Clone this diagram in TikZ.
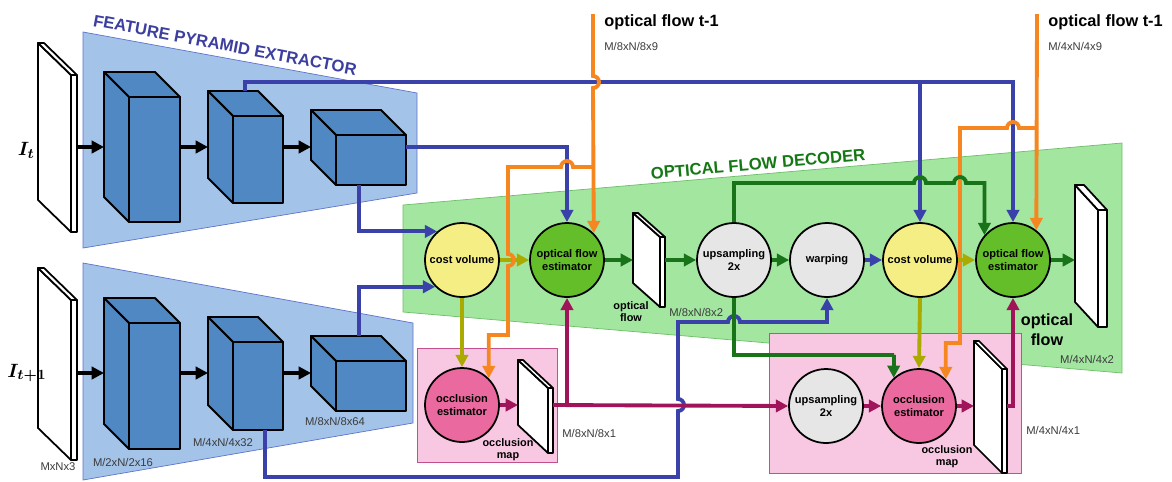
\documentclass[tikz,border=0pt]{standalone}
\usepackage{fontspec}
\setmainfont{Liberation Sans}
\usepackage{bm}
\usetikzlibrary{arrows.meta}

\definecolor{pyrfill}{RGB}{163,195,232}
\definecolor{pyredge}{RGB}{95,115,205}
\definecolor{pyrtext}{RGB}{60,62,160}
\definecolor{cubefill}{RGB}{80,136,196}
\definecolor{decfill}{RGB}{162,230,160}
\definecolor{decedge}{RGB}{110,190,105}
\definecolor{dectext}{RGB}{20,120,20}
\definecolor{occfill}{RGB}{248,200,226}
\definecolor{occedge}{RGB}{195,80,140}
\definecolor{lnblue}{RGB}{58,66,170}
\definecolor{lngreen}{RGB}{25,115,25}
\definecolor{lnolive}{RGB}{170,170,0}
\definecolor{lnorange}{RGB}{245,134,32}
\definecolor{lnmag}{RGB}{160,20,90}
\definecolor{cvfill}{RGB}{244,238,132}
\definecolor{ofefill}{RGB}{100,190,42}
\definecolor{ocefill}{RGB}{234,106,160}
\definecolor{upfill}{RGB}{230,230,230}
\definecolor{dimgrey}{RGB}{60,60,60}

\begin{document}
\begin{tikzpicture}[x=0.02cm,y=-0.02cm,>={Triangle[length=7pt,width=7pt]},
	blk/.style={line width=2.2pt,->},
	bl/.style={line width=2.2pt,lnblue},
	gr/.style={line width=2.2pt,lngreen},
	ol/.style={line width=2.2pt,lnolive},
	or/.style={line width=2.2pt,lnorange},
	mg/.style={line width=2.2pt,lnmag},
	slab/.style={draw,fill=white,line width=1pt,line join=round},
	cube/.style={draw,fill=cubefill,line width=1.1pt,line join=round},
	op/.style={circle,draw,line width=1pt,minimum size=1.48cm,inner sep=0pt,align=center,font=\fontsize{6.3}{7.5}\selectfont\bfseries},
	dim/.style={font=\fontsize{6.4}{7.5}\selectfont,text=dimgrey,inner sep=0pt},
	lbl/.style={font=\fontsize{6.2}{6.9}\selectfont\bfseries,align=center,inner sep=0pt},
	title/.style={font=\fontsize{9.5}{10}\selectfont\bfseries,inner sep=0pt}
]

	\useasboundingbox (0,0) rectangle (1172,481);

	% feature pyramid extractor
	\draw[pyredge,fill=pyrfill] (83,32) -- (417,93) -- (417,193) -- (83,248) -- cycle;
	\draw[pyredge,fill=pyrfill] (83,263) -- (413,323) -- (413,423) -- (83,480) -- cycle;
	\node[title,text=pyrtext,rotate=-10.6] (fpe) at (225,45) {FEATURE PYRAMID EXTRACTOR};

	% optical flow decoder
	\draw[decedge,fill=decfill] (403,205) -- (1122,143) -- (1122,373) -- (403,312) -- cycle;
	\node[title,text=dectext,rotate=5] (ofd) at (758,164) {OPTICAL FLOW DECODER};

	% occlusion boxes
	\draw[occedge,fill=occfill] (417,348) rectangle (557,462);
	\draw[occedge,fill=occfill] (769,333) rectangle (1021,473);

	% images and maps
	\foreach \n/\x/\y/\w/\d/\h/\t/\p in {inA/38/43/33/32/157/6/147, inB/38/268/33/32/160/6/373,
		flowA/633/213/27/24/70/5/260, flowB/1075/185/23/25/117/9/260,
		occA/518/360/30/28/65/5/405, occB/974/341/28/28/104/5/406}{
		\draw[slab] (\x,\y) -- ++(\w,\d) -- ++(0,\h) -- ++(-\w,-\d) -- cycle;
		\draw[slab] (\x,\y) -- ++(\t,0) -- ++(\w,\d) -- ++(-\t,0) -- cycle;
		\draw[slab] (\x+\w,\y+\d) -- ++(\t,0) -- ++(0,\h) -- ++(-\t,0) -- cycle;
		\coordinate (\n-w) at (\x,\p);
		\coordinate (\n-e) at (\x+\w+\t,\p);
	}

	% feature maps
	\foreach \n/\x/\y/\X/\Y/\p in {A1/129/97/180/222/147, A2/233/116/283/203/147, A3/336/135/406/185/147,
		B1/129/323/180/449/373, B2/233/342/283/430/373, B3/336/361/406/411/373}{
		\draw[cube] (\x,\y) -- ++(-25,-25) -- (\X-25,\y-25) -- (\X,\y) -- cycle;
		\draw[cube] (\x,\y) -- ++(-25,-25) -- (\x-25,\Y-25) -- (\x,\Y) -- cycle;
		\draw[cube] (\x,\y) rectangle (\X,\Y);
		\coordinate (\n-w) at (\x-25,\p);
		\coordinate (\n-e) at (\X,\p);
	}
	\coordinate (A2-t) at (245,91);
	\coordinate (A3-b) at (359,185);
	\coordinate (B2-b) at (265,430);
	\coordinate (B3-t) at (359,336);

	\draw[blk] (inA-e) -- (A1-w);
	\draw[blk] (A1-e) -- (A2-w);
	\draw[blk] (A2-e) -- (A3-w);
	\draw[blk] (inB-e) -- (B1-w);
	\draw[blk] (B1-e) -- (B2-w);
	\draw[blk] (B2-e) -- (B3-w);

	% operations
	\node[op,fill=cvfill] (cvA) at (462,260) {cost volume};
	\node[op,fill=ofefill] (ofeA) at (567,260) {optical flow\\estimator};
	\node[op,fill=ocefill] (oceA) at (462,405) {occlusion\\estimator};
	\node[op,fill=upfill] (upA) at (734,260) {upsampling\\2x};
	\node[op,fill=upfill] (warp) at (827,260) {warping};
	\node[op,fill=cvfill] (cvB) at (920,260) {cost volume};
	\node[op,fill=ofefill] (ofeB) at (1013,260) {optical flow\\estimator};
	\node[op,fill=upfill] (upB) at (826,406) {upsampling\\2x};
	\node[op,fill=ocefill] (oceB) at (919,406) {occlusion\\estimator};

	\coordinate (ofA) at (593,14);
	\coordinate (ofB) at (1037,14);
	\coordinate (busA) at (cvB.north |- 0,82);

	% features
	\draw[bl,->] (A2-t) |- (busA) -| (ofeB.north);
	\draw[bl,->] (busA) -- (cvB.north);
	\draw[bl,->] (A3-e) -| (ofeA.north);
	\draw[bl,->] (A3-b) |- (cvA.131);
	\draw[bl,->] (B3-t) |- (cvA.225);
	\draw[bl,->] (B2-b) |- (678,477) -- (678,411) arc[start angle=90,end angle=-90,radius=6]
		-- (678,322) -- (728,322) arc[start angle=180,end angle=360,radius=6] -| (warp.south);
	\draw[bl,->] (warp.east) -- (cvB.west);

	% cost volumes
	\draw[ol,->] (cvA.east) -- (ofeA.west);
	\draw[ol,->] (cvA.south) -- (oceA.north);
	\draw[ol,->] (cvB.south) -- (oceB.north);

	% previous flow
	\draw[or,->] (ofA) -- (593,76) arc[start angle=-90,end angle=90,radius=6] -- (ofeA.45);
	\draw[or,->] (593,167) -- (573,167) arc[start angle=0,end angle=-180,radius=6] -- (508,167)
		-- (508,254) arc[start angle=-90,end angle=90,radius=6] -- (508,335) -| (oceA.45);
	\draw[or,->] (ofB) -- (ofeB.52);
	\draw[or,->] (1037,128) -- (1019,128) arc[start angle=0,end angle=-180,radius=6] -- (960,128)
		-- (960,343) -| (oceB.45);
	\draw[ol,->] (cvB.east) -- (ofeB.west);

	% flow
	\draw[gr,->] (ofeA.east) -- (flowA-w);
	\draw[gr,->] (flowA-e) -- (upA.west);
	\draw[gr,->] (upA.east) -- (warp.west);
	\draw[gr,->] (upA.north) |- (914,183) arc[start angle=180,end angle=360,radius=6]
		-- (954,183) arc[start angle=180,end angle=360,radius=6] -| (ofeB.139);
	\draw[gr,->] (upA.south) |- (894,355) -| (oceB.132);
	\draw[gr,->] (ofeB.east) -- (flowB-w);

	% occlusion
	\draw[mg,->] (oceA.east) -- (occA-w);
	\draw[mg,->] (occA-e) -- (upB.west);
	\draw[mg,->] (ofeA.south |- occA-e) -- (ofeA.south);
	\draw[mg,->] (upB.east) -- (oceB.west);
	\draw[mg,->] (oceB.east) -- (occB-w);
	\draw[mg,->] (occB-e) -| (ofeB.south);

	% labels
	\node[anchor=east,font=\fontsize{11}{12}\selectfont] (imA) at (41,150) {$\bm{I_t}$};
	\node[font=\fontsize{11}{12}\selectfont] (imB) at (27,373) {$\bm{I_{t+1}}$};
	\node[dim] (dimIn) at (58,467) {MxNx3};
	\node[dim] (dimA1) at (123,462) {M/2xN/2x16};
	\node[dim] (dimA2) at (223,442) {M/4xN/4x32};
	\node[dim] (dimA3) at (335,421) {M/8xN/8x64};
	\node[title,anchor=west,font=\fontsize{9.3}{10}\selectfont\bfseries] (prevA) at (604,22) {optical flow t-1};
	\node[dim,anchor=west] (dimPA) at (604,46) {M/8xN/8x9};
	\node[title,anchor=west,font=\fontsize{9.3}{10}\selectfont\bfseries] (prevB) at (1048,22) {optical flow t-1};
	\node[dim,anchor=west] (dimPB) at (1048,46) {M/4xN/4x9};
	\node[lbl] (flowAlbl) at (631,312) {optical\\flow};
	\node[dim,anchor=west] (dimFA) at (669,312) {M/8xN/8x2};
	\node[lbl] (occAlbl) at (508,450) {occlusion\\map};
	\node[dim,anchor=west] (dimOA) at (562,433) {M/8xN/8x1};
	\node[lbl,font=\fontsize{9.2}{11.3}\selectfont\bfseries] (flowBlbl) at (1047,330) {optical\\flow};
	\node[dim] (dimFB) at (1087,359) {M/4xN/4x2};
	\node[lbl] (occBlbl) at (947,457) {occlusion\\map};
	\node[dim,anchor=west] (dimOB) at (1026,430) {M/4xN/4x1};

\end{tikzpicture}
\end{document}
